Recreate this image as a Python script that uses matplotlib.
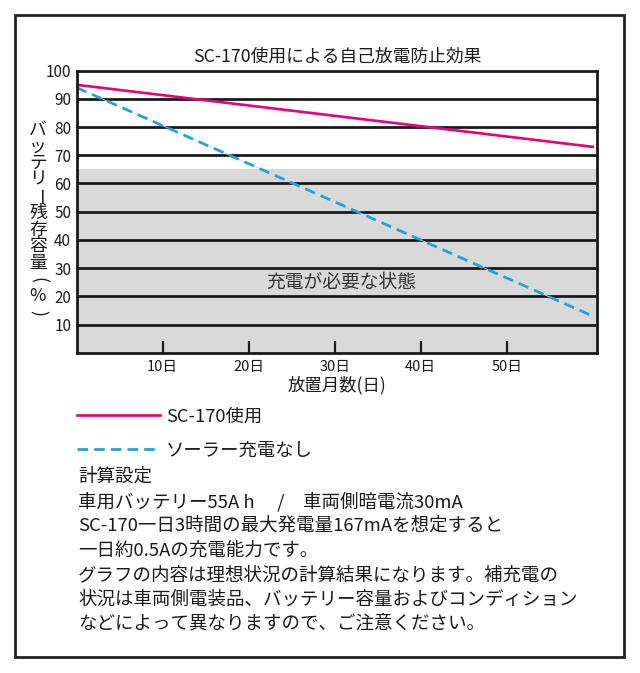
import matplotlib
matplotlib.use('Agg')
import matplotlib.pyplot as plt
from matplotlib.lines import Line2D
from matplotlib.patches import Rectangle

plt.rcParams['font.family'] = ['Noto Sans CJK JP', 'DejaVu Sans']

# --- data ---
days = [0, 60]
sc170_level = [95, 73]          # SC-170使用
no_solar_level = [94, 13]       # ソーラー充電なし
charge_needed_top = 65          # 充電が必要な状態 (gray zone)

series_names = ['SC-170使用', 'ソーラー充電なし']
x_ticks = [10, 20, 30, 40, 50]
x_tick_labels = [f'{d}日' for d in x_ticks]
y_ticks = [10, 20, 30, 40, 50, 60, 70, 80, 90, 100]

title = 'SC-170使用による自己放電防止効果'
x_label = '放置月数(日)'
y_label = 'バッテリー残存容量(%)'
zone_label = '充電が必要な状態'
notes = [
    '計算設定',
    '車用バッテリー55A h\u3000 /\u3000車両側暗電流30mA',
    'SC-170一日3時間の最大発電量167mAを想定すると',
    '一日約0.5Aの充電能力です。',
    'グラフの内容は理想状況の計算結果になります。補充電の',
    '状況は車両側電装品、バッテリー容量およびコンディション',
    'などによって異なりますので、ご注意ください。',
]

pink = '#e4007f'
blue = '#1ea5dc'
ink = '#1a1a1a'

# --- figure in pixel coords ---
W, H = 640, 673
fig = plt.figure(figsize=(6.4, 6.73), dpi=100)


def fx(px):
    return px / W


def fy(py):
    return 1 - py / H


ax = fig.add_axes([fx(76.7), fy(352.7), fx(597) - fx(76.7), fy(70.7) - fy(352.7)])
ax.set_xlim(0, 60.5)
ax.set_ylim(0, 100)

ax.axhspan(0, charge_needed_top, color='#d9d9d9', lw=0, zorder=0)
for y in y_ticks[:-1]:
    ax.axhline(y, color=ink, lw=2.0, zorder=1)

ax.plot(days, no_solar_level, color='#c9dde5', lw=0.6, zorder=2)
ax.plot(days, no_solar_level, color=blue, lw=2.0, dashes=(3.8, 2.2), zorder=3)
ax.plot(days, sc170_level, color=pink, lw=1.9, zorder=4)

ax.text(30.7, 25, zone_label, ha='center', va='center', fontsize=13.5, color='#333333', zorder=5)

for s in ax.spines.values():
    s.set_linewidth(2.0)
    s.set_color(ink)
    s.set_zorder(6)

ax.set_yticks(y_ticks)
ax.tick_params(axis='y', length=0, pad=4, labelsize=11, labelcolor=ink)
ax.set_xticks(x_ticks, x_tick_labels)
ax.tick_params(axis='x', direction='in', length=8.5, width=1.6, color=ink, pad=5,
               labelsize=10.5, labelcolor=ink)

# title and axis labels
fig.text(fx(337), fy(57), title, ha='center', va='center', fontsize=12.8, color=ink)
fig.text(fx(337), fy(385), x_label, ha='center', va='center', fontsize=12.5, color=ink)

# vertical (stacked) y label
step = (313 - 130) / (len(y_label) - 1)
for i, ch in enumerate(y_label):
    rot = -90 if ch in 'ー()' else 0
    fig.text(fx(38), fy(130 + i * step), ch, ha='center', va='center',
             fontsize=12.8, rotation=rot, color=ink)

# legend drawn below the chart
leg_y = [415, 449]
fig.add_artist(Line2D([fx(77), fx(160)], [fy(leg_y[0])] * 2, transform=fig.transFigure,
                      color=pink, lw=1.9))
fig.add_artist(Line2D([fx(77), fx(160)], [fy(leg_y[1])] * 2, transform=fig.transFigure,
                      color=blue, lw=2.0, dashes=(3.8, 2.2)))
for name, y in zip(series_names, leg_y):
    fig.text(fx(166), fy(y + 2), name, ha='left', va='center', fontsize=13.2, color=ink)

# notes
for i, line in enumerate(notes):
    fig.text(fx(78), fy(477 + i * 24.5), line, ha='left', va='center', fontsize=13.3, color=ink)

# outer frame
fig.add_artist(Rectangle((fx(15), fy(657)), fx(624) - fx(15), fy(15) - fy(657),
                         transform=fig.transFigure, fill=False, lw=2, ec='#222222'))

fig.savefig('out.png', dpi=100)
